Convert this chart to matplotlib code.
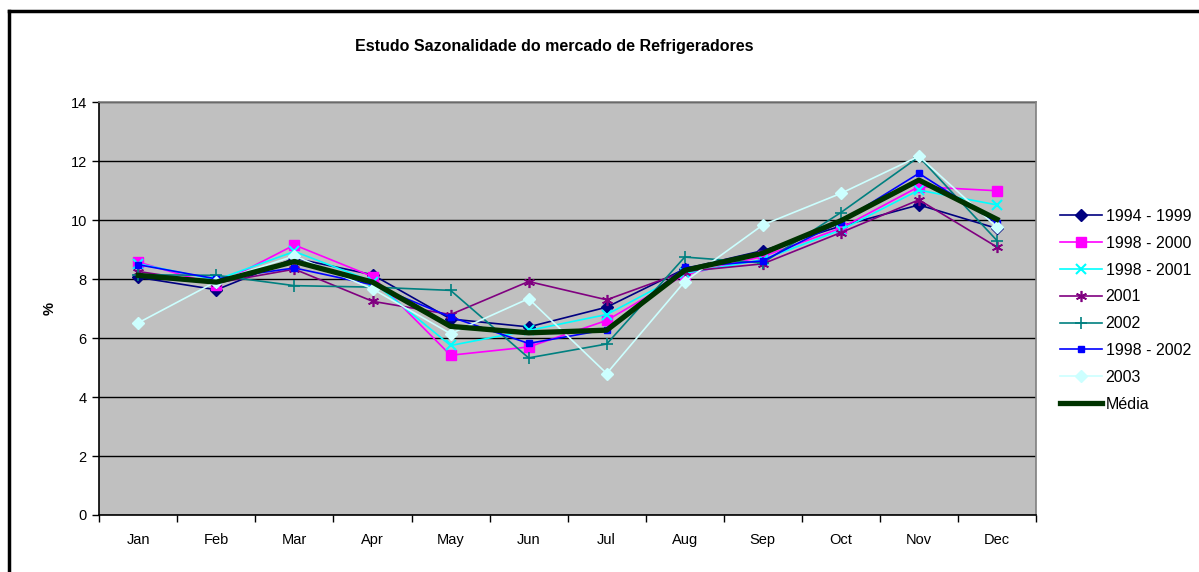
import matplotlib
matplotlib.use("Agg")
from matplotlib import pyplot as plt

# Dados: participação mensal (%) nas vendas de refrigeradores
meses = ["Jan", "Feb", "Mar", "Apr", "May", "Jun",
         "Jul", "Aug", "Sep", "Oct", "Nov", "Dec"]

s_1994_1999 = [8.06, 7.64, 8.71, 8.15, 6.65, 6.38, 7.05, 8.35, 8.97, 9.80, 10.52, 9.72]
s_1998_2000 = [8.58, 7.80, 9.16, 8.09, 5.42, 5.70, 6.60, 8.15, 8.77, 9.73, 11.14, 11.00]
s_1998_2001 = [8.52, 7.98, 8.94, 7.92, 5.75, 6.26, 6.80, 8.20, 8.66, 9.67, 11.02, 10.52]
s_2001 = [8.26, 7.87, 8.34, 7.25, 6.80, 7.92, 7.30, 8.26, 8.52, 9.58, 10.69, 9.09]
s_2002 = [8.15, 8.13, 7.78, 7.73, 7.62, 5.33, 5.80, 8.75, 8.55, 10.26, 12.15, 9.31]
s_1998_2002 = [8.49, 8.01, 8.38, 7.81, 6.72, 5.82, 6.29, 8.40, 8.62, 9.95, 11.59, 9.90]
s_2003 = [6.52, 7.92, 8.79, 7.67, 6.15, 7.34, 4.80, 7.92, 9.84, 10.91, 12.17, 9.76]
media = [8.13, 7.90, 8.60, 7.90, 6.40, 6.18, 6.27, 8.30, 8.88, 9.98, 11.36, 10.03]

rotulos = ["1994 - 1999", "1998 - 2000", "1998 - 2001", "2001",
           "2002", "1998 - 2002", "2003", "Média"]

plt.rcParams['font.family'] = ['Liberation Sans', 'DejaVu Sans']

f1 = plt.figure(figsize=(11.99, 5.72), dpi=100)
f1.patch.set_facecolor('white')

# moldura do gráfico (só topo e esquerda aparecem)
f1.add_artist(plt.Line2D([9 / 1199, 1], [1 - 11 / 572, 1 - 11 / 572], color='black', lw=2.5,
                         transform=f1.transFigure))
f1.add_artist(plt.Line2D([9 / 1199, 9 / 1199], [0, 1 - 11 / 572], color='black', lw=2.5,
                         transform=f1.transFigure))

ax1 = f1.add_axes([99.3 / 1199, 1 - 515 / 572, (1036 - 99.3) / 1199, (515 - 102.3) / 572])
ax1.set_facecolor('#C0C0C0')

x = list(range(len(meses)))

ax1.plot(x, s_1994_1999, color='#000080', lw=1.2, marker='D', ms=6, label=rotulos[0])
ax1.plot(x, s_1998_2000, color='#FF00FF', lw=1.2, marker='s', ms=7.5, label=rotulos[1])
ax1.plot(x, s_1998_2001, color='#00FFFF', lw=1.2, marker='x', ms=7, mew=1.5, label=rotulos[2])
ax1.plot(x, s_2001, color='#800080', lw=1.2, marker=(6, 2, 0), ms=8, mew=1.2, label=rotulos[3])
ax1.plot(x, s_2002, color='#008080', lw=1.2, marker='+', ms=8, mew=1.2, label=rotulos[4])
ax1.plot(x, s_1998_2002, color='#0000FF', lw=1.2, marker='s', ms=4.5, label=rotulos[5])
ax1.plot(x, s_2003, color='#CCFFFF', lw=1.2, marker='D', ms=6, label=rotulos[6])
ax1.plot(x, media, color='#003300', lw=3.8, label=rotulos[7])

ax1.set_xlim(-0.5, 11.5)
ax1.set_ylim(0, 14)
ax1.set_yticks(range(0, 15, 2))
ax1.set_xticks(x)
ax1.set_xticklabels(meses)
ax1.set_xticks([i - 0.5 for i in range(13)], minor=True)
ax1.tick_params(axis='x', which='major', length=0, pad=13, labelsize=10.5)
ax1.tick_params(axis='x', which='minor', length=5, direction='out', width=1)
ax1.tick_params(axis='y', length=5, direction='out', width=1, pad=4, labelsize=10.5)

ax1.yaxis.grid(True, color='black', lw=1)
ax1.set_axisbelow(True)
ax1.spines['top'].set_color('#808080')
ax1.spines['right'].set_color('#808080')
for lado in ('top', 'right', 'left', 'bottom'):
    ax1.spines[lado].set_linewidth(1.2)

ax1.set_ylabel('%', fontsize=10.5, fontweight='bold', labelpad=10)

f1.suptitle('Estudo Sazonalidade do mercado de Refrigeradores', x=554 / 1199, y=1 - 47 / 572,
            va='center', fontsize=11.5, fontweight='bold')

ax1.legend(loc='upper left', bbox_to_anchor=(1052 / 1199, 1 - 201 / 572),
           bbox_transform=f1.transFigure, frameon=False, fontsize=11.5,
           handlelength=2.6, handletextpad=0.25, labelspacing=0.74, borderpad=0)

f1.savefig('out.png', dpi=100)
